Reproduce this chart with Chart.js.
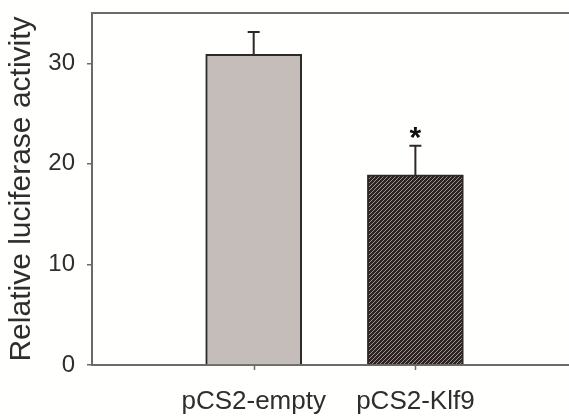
<!DOCTYPE html>
<html><head><meta charset="utf-8">
<script src="https://cdn.jsdelivr.net/npm/chart.js@4"></script>
<style>html,body{margin:0;padding:0;background:#fffffd;}#wrap{width:569px;height:420px;position:relative;}</style>
</head><body><div id="wrap"><canvas id="c" width="569" height="420"></canvas></div>
<script>
// ---- data ----
const categories = ['pCS2-empty', 'pCS2-Klf9'];
const means = [30.9, 18.9];
const errors = [2.2, 2.9];
const sigMarks = ['', '*'];
const yTicks = [0, 10, 20, 30];
const yMax = 35;
const xMax = 2.95;

// ---- styles ----
const axisColor = '#6e6866';
const barBorder = '#2e2828';
const textColor = '#2e2e2e';
const fontFam = '"Liberation Sans", Arial, Helvetica, sans-serif';

function makeHatch() {
  const s = 4;
  const c = document.createElement('canvas');
  c.width = s; c.height = s;
  const g = c.getContext('2d');
  g.fillStyle = '#2c2422';
  g.fillRect(0, 0, s, s);
  g.strokeStyle = '#9c928e';
  g.lineWidth = 1;
  g.beginPath();
  g.moveTo(0, s); g.lineTo(s, 0);
  g.moveTo(-1, 1); g.lineTo(1, -1);
  g.moveTo(s - 1, s + 1); g.lineTo(s + 1, s - 1);
  g.stroke();
  return g.createPattern(c, 'repeat');
}
const fills = ['#c4bdb9', makeHatch()];

const points = means.map((v, i) => ({ x: i + 1, y: v }));

const errPlugin = {
  id: 'errbars',
  afterDatasetsDraw(chart) {
    const ctx = chart.ctx;
    const xs = chart.scales.x, ys = chart.scales.y;
    ctx.save();
    // category tick marks on the bottom axis
    ctx.strokeStyle = axisColor;
    ctx.lineWidth = 1.5;
    ctx.beginPath();
    categories.forEach((c, i) => {
      const px = Math.round(xs.getPixelForValue(i + 1)) + 0.5;
      ctx.moveTo(px, xs.top); ctx.lineTo(px, xs.top + 5);
    });
    ctx.stroke();
    means.forEach((v, i) => {
      const px = xs.getPixelForValue(i + 1);
      const y0 = ys.getPixelForValue(v);
      const y1 = ys.getPixelForValue(v + errors[i]);
      ctx.strokeStyle = barBorder;
      ctx.lineWidth = 2;
      ctx.beginPath();
      ctx.moveTo(px, y0); ctx.lineTo(px, y1);
      ctx.moveTo(px - 6, y1); ctx.lineTo(px + 6, y1);
      ctx.stroke();
      if (sigMarks[i]) {
        ctx.fillStyle = '#111';
        ctx.font = 'bold 30px ' + fontFam;
        ctx.textAlign = 'center';
        ctx.textBaseline = 'alphabetic';
        ctx.fillText(sigMarks[i], px, y1 + 1);
      }
    });
    ctx.restore();
  }
};

const noPad = (s) => { s.paddingTop = 0; s.paddingBottom = 0; s.paddingLeft = 0; s.paddingRight = 0; };

new Chart(document.getElementById('c'), {
  type: 'bar',
  data: {
    datasets: [{
      data: points,
      backgroundColor: fills,
      borderColor: barBorder,
      borderWidth: 2,
      borderSkipped: 'start',
      barThickness: 96
    }]
  },
  options: {
    responsive: false,
    animation: false,
    layout: { padding: { top: 13, right: 0, bottom: 0, left: 0 } },
    plugins: { legend: { display: false }, tooltip: { enabled: false } },
    scales: {
      x: {
        type: 'linear',
        offset: false,
        min: 0, max: xMax,
        afterBuildTicks: (s) => { s.ticks = categories.map((c, i) => ({ value: i + 1 })); },
        afterFit: (s) => { s.height = 55; noPad(s); },
        ticks: {
          callback: (v) => categories[v - 1] ?? '',
          color: textColor,
          font: { size: 26, family: fontFam },
          padding: 16,
          maxRotation: 0, autoSkip: false
        },
        grid: { display: true, offset: false, drawOnChartArea: false, drawTicks: true, tickLength: 5, color: 'rgba(0,0,0,0)', tickColor: 'rgba(0,0,0,0)' },
        border: { display: true, color: axisColor, width: 2 }
      },
      xTop: {
        type: 'linear', position: 'top', min: 0, max: xMax, offset: false,
        afterFit: (s) => { s.height = 0; noPad(s); },
        ticks: { display: false },
        grid: { display: false, drawTicks: false },
        border: { display: true, color: axisColor, width: 2 }
      },
      y: {
        min: 0, max: yMax,
        afterBuildTicks: (s) => { s.ticks = yTicks.map(v => ({ value: v })); },
        afterFit: (s) => { s.width = 92; noPad(s); },
        ticks: {
          color: textColor,
          font: { size: 24, family: fontFam },
          padding: 12
        },
        grid: { display: true, drawOnChartArea: false, drawTicks: true, tickLength: 5, color: axisColor, lineWidth: 1.5 },
        border: { display: true, color: axisColor, width: 2 },
        title: {
          display: true,
          text: 'Relative luciferase activity',
          color: textColor,
          font: { size: 30, family: fontFam },
          padding: { top: 4, bottom: 0 }
        }
      }
    }
  },
  plugins: [errPlugin]
});
</script>
</body></html>
